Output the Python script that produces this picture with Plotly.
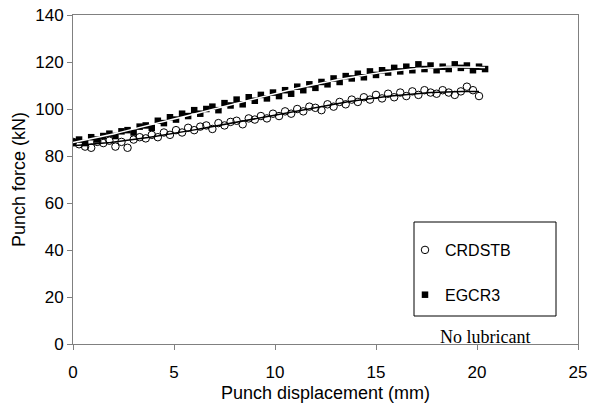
import numpy as np
import plotly.graph_objects as go

# CRDSTB (open circles)
crd_x = [0.0, 0.3, 0.6, 0.9, 1.2, 1.5, 1.8, 2.1, 2.4, 2.7, 3.0, 3.3, 3.6, 3.9, 4.2, 4.5, 4.8,
         5.1, 5.4, 5.7, 6.0, 6.3, 6.6, 6.9, 7.2, 7.5, 7.8, 8.1, 8.4, 8.7, 9.0, 9.3, 9.6, 9.9,
         10.2, 10.5, 10.8, 11.1, 11.4, 11.7, 12.0, 12.3, 12.6, 12.9, 13.2, 13.5, 13.8, 14.1,
         14.4, 14.7, 15.0, 15.3, 15.6, 15.9, 16.2, 16.5, 16.8, 17.1, 17.4, 17.7, 18.0, 18.3,
         18.6, 18.9, 19.2, 19.5, 19.8, 20.1]
crd_y = [86, 85, 84, 83.5, 86, 85.5, 86.5, 84, 86, 83.5, 87, 88, 87.5, 89, 88, 90, 89,
         91, 90, 92, 91, 92.5, 93, 91.5, 94, 93, 94.5, 95, 93.5, 96, 95.5, 97, 96, 98,
         97, 99, 98, 100, 99, 101, 100.5, 99.5, 102, 101, 103, 102, 104, 103,
         105, 104, 106, 104.5, 106.5, 105, 107, 105.5, 107.5, 106, 108, 107, 106.5, 108,
         107, 106, 107.5, 109.5, 108, 105.5]

# EGCR3 (filled squares)
egc_x = [0.0, 0.3, 0.6, 0.9, 1.2, 1.5, 1.8, 2.1, 2.4, 2.7, 3.0, 3.3, 3.6, 3.9, 4.2, 4.5, 4.8,
         5.1, 5.4, 5.7, 6.0, 6.3, 6.6, 6.9, 7.2, 7.5, 7.8, 8.1, 8.4, 8.7, 9.0, 9.3, 9.6, 9.9,
         10.2, 10.5, 10.8, 11.1, 11.4, 11.7, 12.0, 12.3, 12.6, 12.9, 13.2, 13.5, 13.8, 14.1,
         14.4, 14.7, 15.0, 15.3, 15.6, 15.9, 16.2, 16.5, 16.8, 17.1, 17.4, 17.7, 18.0, 18.3,
         18.6, 18.9, 19.2, 19.5, 19.8, 20.1, 20.4]
egc_y = [86, 87, 85.5, 88, 87, 88.5, 89.5, 88.5, 90.5, 91, 90, 92.5, 93, 92, 95, 94, 96.5,
         95.5, 98, 97, 99.5, 98, 100, 101, 99.5, 102.5, 101.5, 104, 102, 105, 103.5, 106, 104.5, 107,
         105.5, 108, 106.5, 109.5, 108, 110.5, 109, 111.5, 110.5, 113, 111.5, 114, 113, 115,
         113.5, 116, 114.5, 116.5, 115.5, 117.5, 116, 118, 116.5, 119, 117, 118.5, 116.5, 118,
         117, 119, 117.5, 118.5, 116.5, 118, 117]

x_ticks = [0, 5, 10, 15, 20, 25]
y_ticks = [0, 20, 40, 60, 80, 100, 120, 140]

# polynomial trend lines fitted to each series
cx = np.array(crd_x); cy = np.array(crd_y)
ex = np.array(egc_x); ey = np.array(egc_y)
c_fit = np.poly1d(np.polyfit(cx, cy, 3))
e_fit = np.poly1d(np.polyfit(ex, ey, 3))
c_line_x = np.linspace(cx.min(), cx.max(), 120)
e_line_x = np.linspace(ex.min(), ex.max(), 120)

W, H = 591, 406
L, R, T, B = 73, 13, 15, 62
PW = W - L - R
PH = H - T - B

def px(x):
    return (x - L) / PW

def py(y):
    return (H - B - y) / PH

fig = go.Figure()
fig.add_trace(go.Scatter(x=crd_x, y=crd_y, mode="markers", name="CRDSTB",
                         marker=dict(symbol="circle-open", size=7.5, color="black",
                                     line=dict(width=1)),
                         legendgroup="a"))
fig.add_trace(go.Scatter(x=egc_x, y=egc_y, mode="markers", name="EGCR3",
                         marker=dict(symbol="square", size=6.5, color="black"),
                         legendgroup="b"))
fig.add_trace(go.Scatter(x=c_line_x, y=c_fit(c_line_x), mode="lines",
                         line=dict(color="black", width=1.5), showlegend=False, hoverinfo="skip"))
fig.add_trace(go.Scatter(x=e_line_x, y=e_fit(e_line_x), mode="lines",
                         line=dict(color="white", width=1.5), showlegend=False, hoverinfo="skip"))

# legend box
fig.add_shape(type="rect", xref="paper", yref="paper",
              x0=px(414), x1=px(556), y0=py(316), y1=py(222),
              line=dict(color="black", width=1), fillcolor="rgba(0,0,0,0)")
fig.add_annotation(text="No lubricant", xref="paper", yref="paper",
                   x=px(485), y=py(337), xanchor="center", yanchor="middle", showarrow=False,
                   font=dict(family="Liberation Serif, Times New Roman, serif", size=18, color="black"))

fig.update_layout(
    width=W, height=H,
    margin=dict(l=L, r=R, t=T, b=B),
    plot_bgcolor="white", paper_bgcolor="white",
    font=dict(family="Liberation Sans, Arial, sans-serif", size=17, color="black"),
    showlegend=True,
    legend=dict(x=px(405), y=py(233), xanchor="left", yanchor="top",
                bgcolor="rgba(0,0,0,0)", borderwidth=0, tracegroupgap=21,
                traceorder="grouped", itemwidth=30,
                font=dict(family="Liberation Sans, Arial, sans-serif", size=16)),
    xaxis=dict(range=[0, 25], tickvals=x_ticks, ticks="outside", ticklen=5,
               tickcolor="#808080", showline=True, linecolor="#808080", linewidth=1,
               mirror=True, showgrid=False, zeroline=False, automargin=False,
               ticklabelstandoff=8, ticklabeloverflow="allow",
               title=dict(text="Punch displacement (mm)", font=dict(size=18), standoff=4),
               tickfont=dict(size=17)),
    yaxis=dict(range=[0, 140], tickvals=y_ticks, ticks="outside", ticklen=5,
               tickcolor="#808080", showline=True, linecolor="#808080", linewidth=1,
               mirror=True, showgrid=False, zeroline=False, automargin=False,
               ticklabeloverflow="allow",
               title=dict(text="Punch force (kN)", font=dict(size=18), standoff=4),
               tickfont=dict(size=17)),
)

# remove the default 8px page margin so the figure fills the window exactly
fig.write_html("out.html", config={"displayModeBar": False},
               post_script="document.body.style.margin='0';document.body.style.overflow='hidden';")
